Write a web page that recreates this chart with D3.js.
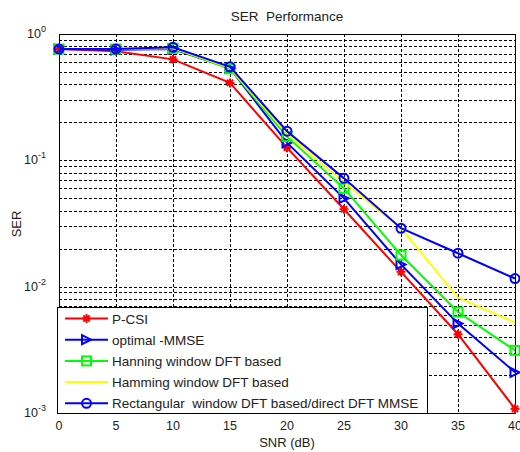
<!DOCTYPE html>
<html>
<head>
<meta charset="utf-8">
<script src="https://cdn.jsdelivr.net/npm/d3@7/dist/d3.min.js"></script>
<style>
  body { margin: 0; background: #fff; }
  svg { display: block; font-family: "Liberation Sans", Arial, sans-serif; }
</style>
</head>
<body>
<svg id="chart" width="520" height="452"></svg>
<script>
const snr = [0, 5, 10, 15, 20, 25, 30, 35, 40];
const pcsi = [0.76, 0.73, 0.63, 0.41, 0.126, 0.041, 0.0131, 0.0042, 0.00108];
const optimalMmse = [0.76, 0.75, 0.76, 0.535, 0.138, 0.050, 0.015, 0.0051, 0.0021];
const hanning = [0.76, 0.76, 0.77, 0.53, 0.154, 0.060, 0.0178, 0.0063, 0.00313];
const hamming = [0.76, 0.76, 0.775, 0.54, 0.162, 0.067, 0.029, 0.0082, 0.0052];
const rectangular = [0.76, 0.76, 0.785, 0.55, 0.17, 0.072, 0.029, 0.0184, 0.0116];
const xTicks = [0, 5, 10, 15, 20, 25, 30, 35, 40];
const yDecades = [0, -1, -2, -3];

const series = [
  { name: 'P-CSI', values: pcsi, color: '#ff0000', marker: 'star' },
  { name: 'optimal -MMSE', values: optimalMmse, color: '#0000ff', marker: 'triangle' },
  { name: 'Hanning window DFT based', values: hanning, color: '#00ff00', marker: 'square' },
  { name: 'Hamming window DFT based', values: hamming, color: '#ffff00', marker: 'none' },
  { name: 'Rectangular  window DFT based/direct DFT MMSE', values: rectangular, color: '#0000ff', marker: 'circle' }
];

(function () {
  const svg = d3.select('#chart');
  const pLeft = 59, pRight = 515, pTop = 34, pBottom = 413;
  const x = d3.scaleLinear().domain([0, 40]).range([pLeft, pRight]);
  const y = d3.scaleLog().domain([1e-3, 1]).range([pBottom, pTop]);

  // grid
  const grid = svg.append('g')
    .attr('stroke', '#000')
    .attr('stroke-width', 1)
    .attr('stroke-dasharray', '3,2')
    .attr('shape-rendering', 'crispEdges');
  const minorVals = [];
  for (let e = -3; e < 0; e++) {
    for (let m = 1; m <= 9; m++) minorVals.push(m * Math.pow(10, e));
  }
  grid.selectAll('line.h').data(minorVals.filter((v) => v > 1e-3 && v < 1)).join('line')
    .attr('class', 'h')
    .attr('x1', pLeft).attr('x2', pRight)
    .attr('y1', (d) => Math.round(y(d)) + 0.5).attr('y2', (d) => Math.round(y(d)) + 0.5);
  grid.selectAll('line.v').data(xTicks.slice(1, -1)).join('line')
    .attr('class', 'v')
    .attr('x1', (d) => Math.round(x(d)) + 0.5).attr('x2', (d) => Math.round(x(d)) + 0.5)
    .attr('y1', pTop).attr('y2', pBottom);

  // frame
  svg.append('rect')
    .attr('x', pLeft + 0.5).attr('y', pTop + 0.5)
    .attr('width', pRight - pLeft).attr('height', pBottom - pTop)
    .attr('fill', 'none').attr('stroke', '#000').attr('stroke-width', 1)
    .attr('shape-rendering', 'crispEdges');

  // tick labels
  svg.append('g').selectAll('text').data(xTicks).join('text')
    .attr('x', (d) => x(d)).attr('y', pBottom + 17)
    .attr('text-anchor', 'middle').attr('font-size', 12.5).attr('fill', '#222')
    .text((d) => d);

  const yl = svg.append('g').selectAll('text').data(yDecades).join('text')
    .attr('x', 46).attr('y', (d) => y(Math.pow(10, d)) + 4)
    .attr('text-anchor', 'end').attr('font-size', 12.5).attr('fill', '#222');
  yl.append('tspan').text('10');
  yl.append('tspan').attr('dy', -6).attr('font-size', 9).text((d) => d);

  // titles
  svg.append('text').attr('x', (pLeft + pRight) / 2).attr('y', 21)
    .attr('text-anchor', 'middle').attr('font-size', 13.5).attr('fill', '#222')
    .attr('xml:space', 'preserve').text('SER  Performance');
  svg.append('text').attr('x', (pLeft + pRight) / 2).attr('y', 447)
    .attr('text-anchor', 'middle').attr('font-size', 13).attr('fill', '#222')
    .text('SNR (dB)');
  svg.append('text').attr('transform', 'translate(21,224) rotate(-90)')
    .attr('text-anchor', 'middle').attr('font-size', 13).attr('fill', '#222')
    .text('SER');

  function drawMarker(g, type, color, cx, cy) {
    const s = 4.5;
    if (type === 'star') {
      const d = s * 0.7;
      g.append('path')
        .attr('d', `M${cx - s},${cy}L${cx + s},${cy}M${cx},${cy - s}L${cx},${cy + s}` +
          `M${cx - d},${cy - d}L${cx + d},${cy + d}M${cx - d},${cy + d}L${cx + d},${cy - d}`)
        .attr('stroke', color).attr('stroke-width', 2).attr('fill', 'none');
    } else if (type === 'triangle') {
      g.append('path')
        .attr('d', `M${cx - s},${cy - s}L${cx + s},${cy}L${cx - s},${cy + s}Z`)
        .attr('stroke', color).attr('stroke-width', 2).attr('fill', 'none');
    } else if (type === 'square') {
      g.append('rect')
        .attr('x', cx - s).attr('y', cy - s).attr('width', 2 * s).attr('height', 2 * s)
        .attr('stroke', color).attr('stroke-width', 2).attr('fill', 'none');
    } else if (type === 'circle') {
      g.append('circle').attr('cx', cx).attr('cy', cy).attr('r', s)
        .attr('stroke', color).attr('stroke-width', 2).attr('fill', 'none');
    }
  }

  const line = d3.line().x((d, i) => x(snr[i])).y((d) => y(d));
  series.forEach((s) => {
    const g = svg.append('g');
    g.append('path').datum(s.values).attr('d', line)
      .attr('fill', 'none').attr('stroke', s.color).attr('stroke-width', 2);
    s.values.forEach((v, i) => drawMarker(g, s.marker, s.color, x(snr[i]), y(v)));
  });

  // legend
  const lg = svg.append('g');
  const lx = 57, ly = 307, lw = 370, lh = 106;
  lg.append('rect').attr('x', lx + 0.5).attr('y', ly + 0.5).attr('width', lw).attr('height', lh)
    .attr('fill', '#fff').attr('stroke', '#000').attr('stroke-width', 1)
    .attr('shape-rendering', 'crispEdges');
  series.forEach((s, i) => {
    const yy = ly + 11.5 + i * 21.2;
    lg.append('line').attr('x1', 65).attr('x2', 108).attr('y1', yy).attr('y2', yy)
      .attr('stroke', s.color).attr('stroke-width', 2);
    drawMarker(lg, s.marker, s.color, 86.5, yy);
    lg.append('text').attr('x', 112).attr('y', yy + 5)
      .attr('font-size', 13.5).attr('fill', '#222').attr('xml:space', 'preserve')
      .text(s.name);
  });
})();
</script>
</body>
</html>
